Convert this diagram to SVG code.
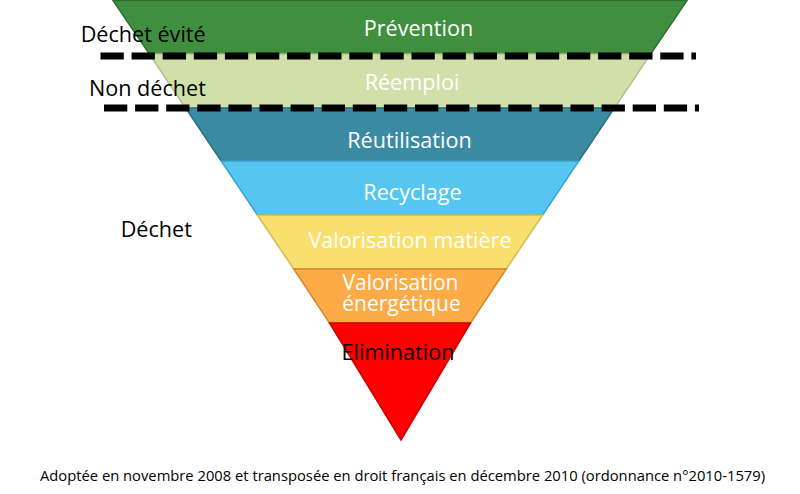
<svg xmlns="http://www.w3.org/2000/svg" width="800" height="494" viewBox="0 0 800 494">
<style>
text{font-family:"Open Sans","Noto Sans","Liberation Sans",sans-serif}
.band{stroke-width:1.5}
.lbl{fill:#ffffff;font-size:21.6px;text-anchor:middle}
.two{font-size:21px}
.side{fill:#000000;font-size:21.6px}
.sep{fill:none;stroke:#000000;stroke-width:7;stroke-dasharray:23.3 7.8}
</style>
<rect width="800" height="494" fill="#ffffff"/>
<g id="prevention">
<polygon class="band" points="113,0.5 687,0.5 650.7,54 149.3,54" fill="#3f8f3f" stroke="#2f6f2f"/>
<text class="lbl" x="418.5" y="36">Prévention</text>
</g>
<g id="reemploi">
<polygon class="band" points="149.3,54 650.7,54 614.4,108 185.6,108" fill="#d1dfa9" stroke="#b3c28c"/>
<text class="lbl" x="412" y="90">Réemploi</text>
</g>
<g id="reutilisation">
<polygon class="band" points="185.6,108 614.4,108 578.8,161 221.2,161" fill="#3a8aa4" stroke="#2c6d83"/>
<text class="lbl" x="409.5" y="148">Réutilisation</text>
</g>
<g id="recyclage">
<polygon class="band" points="221.2,161 578.8,161 542.6,215 257.4,215" fill="#55c6f1" stroke="#3aa2c8"/>
<text class="lbl" x="412.5" y="200">Recyclage</text>
</g>
<g id="valorisation-matiere">
<polygon class="band" points="257.4,215 542.6,215 506.3,269 293.7,269" fill="#f9df6e" stroke="#d3b94e"/>
<text class="lbl" x="410" y="248">Valorisation matière</text>
</g>
<g id="valorisation-energetique">
<polygon class="band" points="293.7,269 506.3,269 470.5,323 329.5,323" fill="#fcab47" stroke="#d2882f"/>
<text class="lbl two" x="400.5" y="290">Valorisation</text>
<text class="lbl two" x="401.5" y="311">énergétique</text>
</g>
<g id="elimination">
<polygon class="band" points="329.5,323 470.5,323 401,440" fill="#ff0000" stroke="#d40000"/>
<text class="side" x="398" y="360" text-anchor="middle">Elimination</text>
</g>
<g id="connectors">
<line class="sep" x1="100.5" y1="56" x2="696" y2="56"/>
<line class="sep" x1="104" y1="108" x2="699" y2="108"/>
</g>
<g id="dechet-evite"><text class="side" x="80.7" y="41.7">Déchet évité</text></g>
<g id="non-dechet"><text class="side" x="89" y="96">Non déchet</text></g>
<g id="dechet"><text class="side" x="120.7" y="236.7">Déchet</text></g>
<g id="footer"><text x="40" y="481" font-size="14.75" fill="#000000">Adoptée en novembre 2008 et transposée en droit français en décembre 2010 (ordonnance n°2010-1579)</text></g>
</svg>
